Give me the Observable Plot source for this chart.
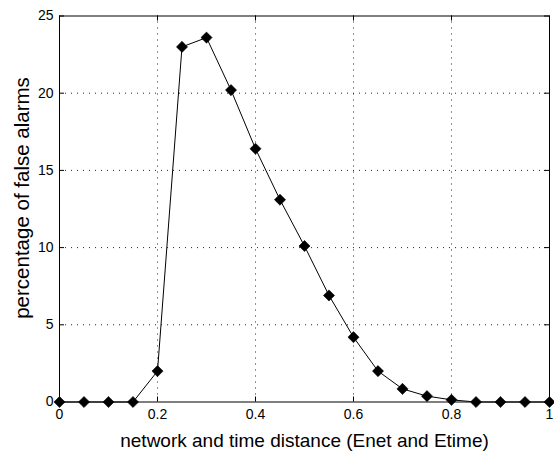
<!DOCTYPE html>
<html>
<head>
<meta charset="utf-8">
<script src="https://cdn.jsdelivr.net/npm/d3@7"></script>
<script src="https://cdn.jsdelivr.net/npm/@observablehq/plot@0.6"></script>
<style>
  html, body { margin: 0; padding: 0; background: #fff; }
  svg { display: block; }
</style>
</head>
<body>
<div id="chart"></div>
<script>
const distance = [0, 0.05, 0.1, 0.15, 0.2, 0.25, 0.3, 0.35, 0.4, 0.45, 0.5, 0.55, 0.6, 0.65, 0.7, 0.75, 0.8, 0.85, 0.9, 0.95, 1];
const falseAlarms = [0, 0, 0, 0, 2.0, 23.0, 23.6, 20.2, 16.4, 13.1, 10.1, 6.9, 4.2, 2.0, 0.85, 0.38, 0.14, 0, 0, 0, 0];
const xTicks = [0, 0.2, 0.4, 0.6, 0.8, 1];
const yTicks = [0, 5, 10, 15, 20, 25];
const xGrid = [0.2, 0.4, 0.6, 0.8];
const yGrid = [5, 10, 15, 20];
const xTitle = "network and time distance (Enet and Etime)";
const yTitle = "percentage of false alarms";

const data = distance.map((d, i) => ({x: d, y: falseAlarms[i]}));

const W = 554, H = 455, mL = 59, mR = 5, mT = 15.5, mB = 53.5;
const pw = W - mL - mR, ph = H - mT - mB, tk = 5;
const font = "'Liberation Sans', Arial, Helvetica, sans-serif";

const chart = Plot.plot({
  width: W, height: H,
  marginLeft: mL, marginRight: mR, marginTop: mT, marginBottom: mB,
  style: {fontFamily: font, background: "#fff", color: "#000"},
  x: {domain: [0, 1]},
  y: {domain: [0, 25]},
  marks: [
    Plot.gridX(xGrid, {stroke: "#000", strokeOpacity: 0.85, strokeDasharray: "1,5"}),
    Plot.gridY(yGrid, {stroke: "#000", strokeOpacity: 0.85, strokeDasharray: "1,5"}),
    // inward ticks, bottom/top/left/right
    Plot.ruleX(xTicks, {stroke: "#000", insetTop: ph - tk}),
    Plot.ruleX(xTicks, {stroke: "#000", insetBottom: ph - tk}),
    Plot.ruleY(yTicks, {stroke: "#000", insetRight: pw - tk}),
    Plot.ruleY(yTicks, {stroke: "#000", insetLeft: pw - tk}),
    Plot.frame({stroke: "#000", strokeWidth: 1}),
    Plot.axisX(xTicks, {tickSize: 0, tickPadding: 7, fontSize: 14, tickFormat: d => String(d), label: null}),
    Plot.axisY(yTicks, {tickSize: 0, tickPadding: 6, fontSize: 14, tickFormat: d => String(d), label: null}),
    Plot.line(data, {x: "x", y: "y", stroke: "#000", strokeWidth: 1}),
    Plot.dot(data, {x: "x", y: "y", symbol: "diamond2", r: 5, fill: "#000", stroke: "#000", strokeWidth: 0.6}),
    Plot.text([xTitle], {frameAnchor: "bottom", dy: 39, fontSize: 19, lineAnchor: "middle", textAnchor: "middle", text: d => d, fill: "#000"}),
    Plot.text([yTitle], {frameAnchor: "left", dx: -37.5, dy: -11, rotate: -90, fontSize: 20.5, lineAnchor: "middle", textAnchor: "middle", text: d => d, fill: "#000"})
  ]
});
document.getElementById("chart").appendChild(chart);
</script>
</body>
</html>
